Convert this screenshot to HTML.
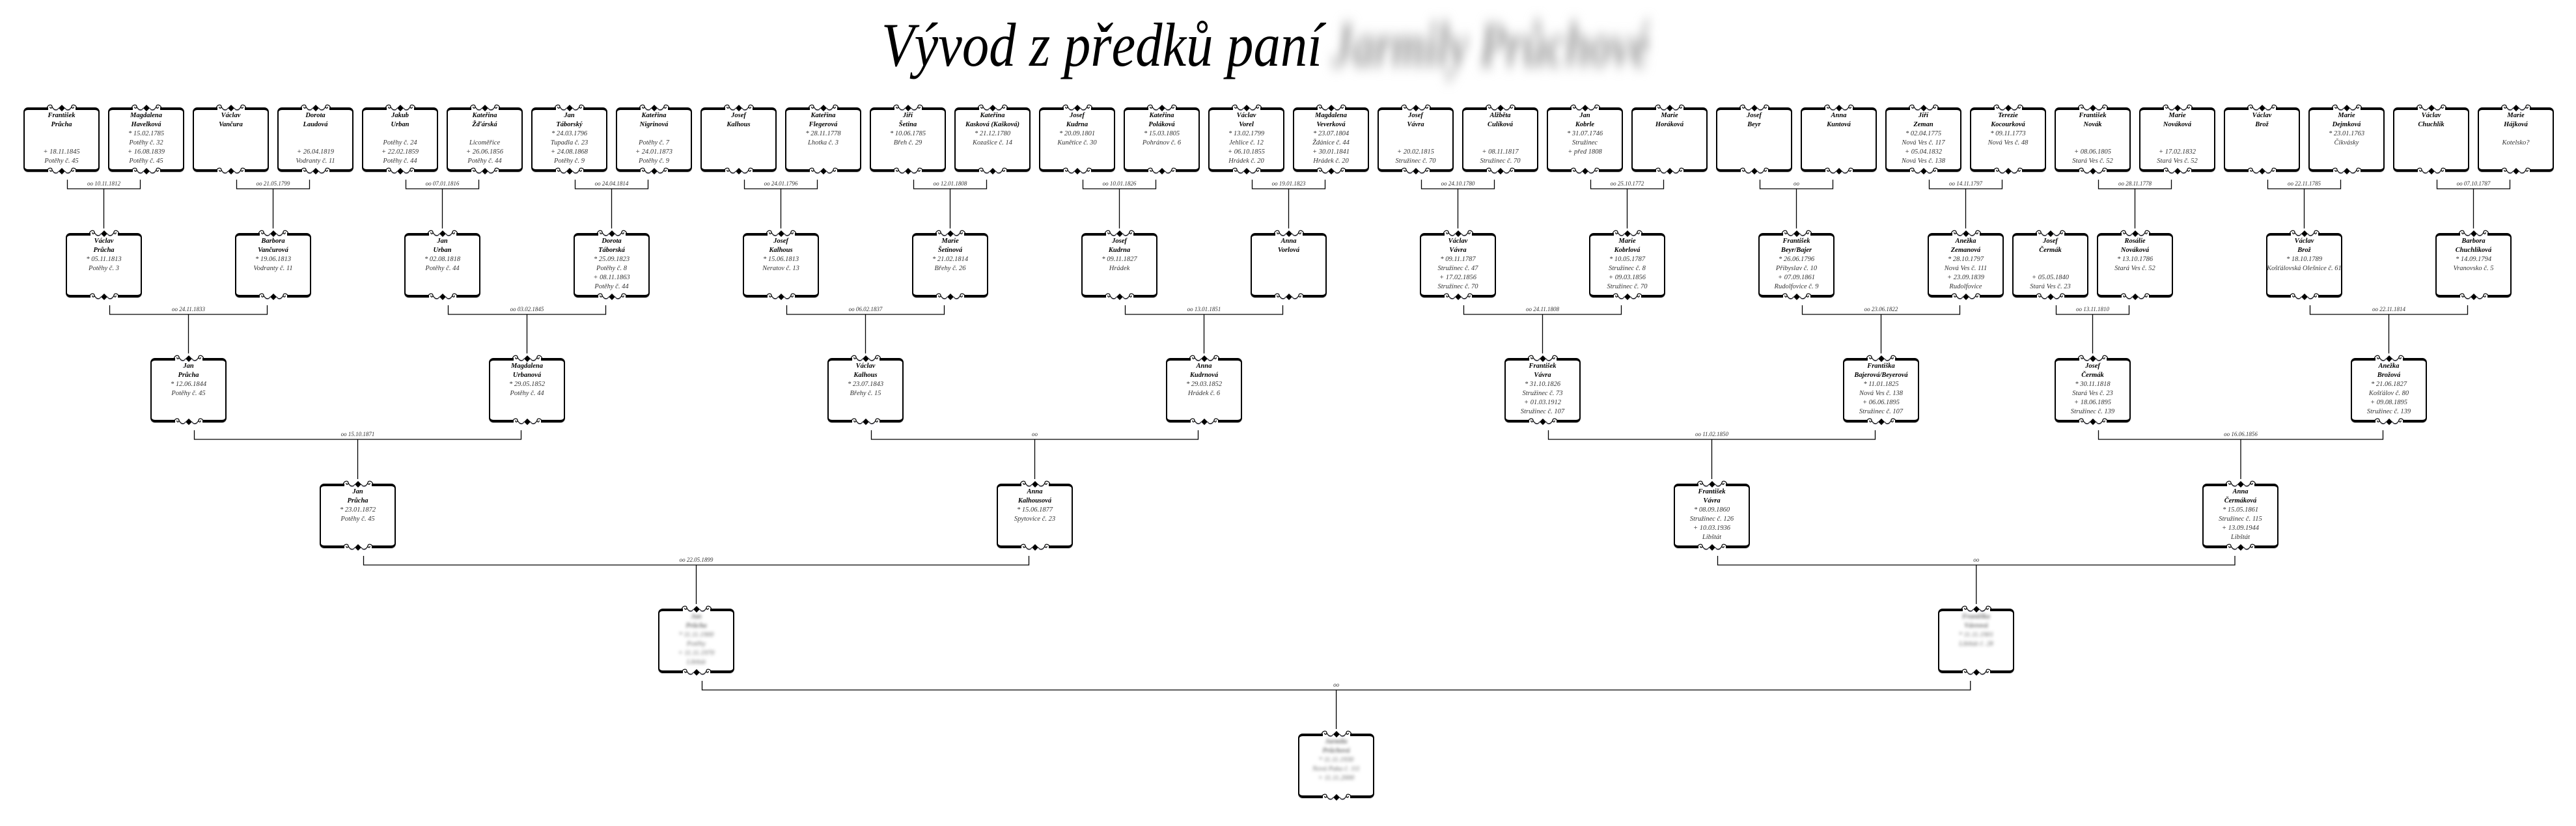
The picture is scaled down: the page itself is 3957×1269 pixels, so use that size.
<!DOCTYPE html>
<html><head><meta charset="utf-8">
<style>
html,body{margin:0;padding:0;background:#fff}
body{width:3957px;height:1269px;position:relative;overflow:hidden;font-family:"Liberation Serif",serif}
.b{position:absolute;width:117px;height:99px}
.b::before{content:'';position:absolute;left:0;top:0;right:0;bottom:0;border:2px solid #000;border-top:4px solid #000;border-bottom:4px solid #000;border-radius:7px;box-shadow:0 1px 0 #bbb}
.b svg{position:absolute;left:34.5px;width:48px;height:16px}
.b svg.t{top:-7px}.b svg.u{bottom:-7px}
.b p{position:absolute;top:6px;left:0;right:0;margin:0}
.b p b,.b p i{display:block;height:14px;line-height:14px;text-align:center;font-size:10.5px;font-style:italic;white-space:nowrap}
.b p b{font-weight:bold;color:#000}
.b p i{color:#333}
.bl p{filter:blur(2.5px)}
.bl p b,.bl p i{color:#666}
#title{position:absolute;left:1354px;top:22px;font-size:95px;font-style:italic;line-height:1;white-space:nowrap;transform:scaleX(0.87);transform-origin:left top}
#blur{position:absolute;left:2045px;top:22px;font-size:95px;font-weight:bold;font-style:italic;line-height:1;color:#9a9a9a;filter:blur(10px);white-space:nowrap;transform:scaleX(0.7);transform-origin:left top}
svg#c{position:absolute;left:0;top:0}
svg#c text{font-family:"Liberation Serif",serif;font-style:italic;font-size:9px;fill:#333;text-anchor:middle}
</style></head><body>
<svg width="0" height="0" style="position:absolute"><defs><symbol id="o" viewBox="0 0 48 16"><rect x="3" y="4" width="42" height="9" fill="#fff"/><path d="M1 8 C3 2 9 2 9 6 C9 9 5 9 6 6 M9 6 C12 12 17 12 19 8 M47 8 C45 2 39 2 39 6 C39 9 43 9 42 6 M39 6 C36 12 31 12 29 8" fill="none" stroke="#000" stroke-width="1.2"/><path d="M19 8 L24 3 L29 8 L24 13Z" fill="#000"/><path d="M11 10 C14 13 17 12 19 9 M37 10 C34 13 31 12 29 9" fill="none" stroke="#99a" stroke-width="0.8"/></symbol></defs></svg>

<div id="title">Vývod z předků paní</div>
<div id="blur">Jarmily Průchové</div>

<svg id="c" width="3957" height="1269">
<g fill="none" stroke="#000" stroke-width="1.3">
<path d="M103.5 276V290H215.5V276M159.5 290V351 M363.5 276V290H475.5V276M419.5 290V351 M623.5 276V290H735.5V276M679.5 290V351 M883.5 276V290H995.5V276M939.5 290V351 M1143.5 276V290H1255.5V276M1199.5 290V351 M1403.5 276V290H1515.5V276M1459.5 290V351 M1663.5 276V290H1775.5V276M1719.5 290V351 M1923.5 276V290H2035.5V276M1979.5 290V351 M2183.5 276V290H2295.5V276M2239.5 290V351 M2443.5 276V290H2555.5V276M2499.5 290V351 M2703.5 276V290H2815.5V276M2759.5 290V351 M2963.5 276V290H3075.5V276M3019.5 290V351 M3223.5 276V290H3335.5V276M3279.5 290V351 M3483.5 276V290H3595.5V276M3539.5 290V351 M3743.5 276V290H3855.5V276M3799.5 290V351"/>
<path d="M168.5 469V483H410.5V469M289.5 483V543 M688.5 469V483H930.5V469M809.5 483V543 M1208.5 469V483H1450.5V469M1329.5 483V543 M1728.5 469V483H1970.5V469M1849.5 483V543 M2248.5 469V483H2490.5V469M2369.5 483V543 M2768.5 469V483H3010.5V469M2889.5 483V543 M3158.5 469V483H3270.5V469M3214.5 483V543 M3548.5 469V483H3790.5V469M3669.5 483V543"/>
<path d="M298.5 661V675H800.5V661M549.5 675V736 M1338.5 661V675H1840.5V661M1589.5 675V736 M2378.5 661V675H2880.5V661M2629.5 675V736 M3223.5 661V675H3660.5V661M3442 675V736"/>
<path d="M558.5 854V868H1580.5V854M1069.5 868V928 M2638.5 854V868H3433V854M3035.75 868V928"/>
<path d="M1078.5 1046V1060H3026.75V1046M2052.6 1060V1120"/>
</g>
<g>
<text x="159.5" y="285">oo 10.11.1812</text><text x="419.5" y="285">oo 21.05.1799</text><text x="679.5" y="285">oo 07.01.1816</text><text x="939.5" y="285">oo 24.04.1814</text><text x="1199.5" y="285">oo 24.01.1796</text><text x="1459.5" y="285">oo 12.01.1808</text><text x="1719.5" y="285">oo 10.01.1826</text><text x="1979.5" y="285">oo 19.01.1823</text><text x="2239.5" y="285">oo 24.10.1780</text><text x="2499.5" y="285">oo 25.10.1772</text><text x="2759.5" y="285">oo</text><text x="3019.5" y="285">oo 14.11.1797</text><text x="3279.5" y="285">oo 28.11.1778</text><text x="3539.5" y="285">oo 22.11.1785</text><text x="3799.5" y="285">oo 07.10.1787</text>
<text x="289.5" y="478">oo 24.11.1833</text><text x="809.5" y="478">oo 03.02.1845</text><text x="1329.5" y="478">oo 06.02.1837</text><text x="1849.5" y="478">oo 13.01.1851</text><text x="2369.5" y="478">oo 24.11.1808</text><text x="2889.5" y="478">oo 23.06.1822</text><text x="3214.5" y="478">oo 13.11.1810</text><text x="3669.5" y="478">oo 22.11.1814</text>
<text x="549.5" y="670">oo 15.10.1871</text><text x="1589.5" y="670">oo</text><text x="2629.5" y="670">oo 11.02.1850</text><text x="3442" y="670">oo 16.06.1856</text>
<text x="1069.5" y="863">oo 22.05.1899</text><text x="3035.75" y="863">oo</text>
<text x="2052.6" y="1055">oo</text>
</g>
</svg>

<!-- Generation 1 -->
<div class="b" style="left:36px;top:165px"><svg class="t"><use href="#o"/></svg><svg class="u"><use href="#o"/></svg><p><b>František</b><b>Průcha</b><i></i><i></i><i>+ 18.11.1845</i><i>Potěhy č. 45</i></p></div>
<div class="b" style="left:166px;top:165px"><svg class="t"><use href="#o"/></svg><svg class="u"><use href="#o"/></svg><p><b>Magdalena</b><b>Havelková</b><i>* 15.02.1785</i><i>Potěhy č. 32</i><i>+ 16.08.1839</i><i>Potěhy č. 45</i></p></div>
<div class="b" style="left:296px;top:165px"><svg class="t"><use href="#o"/></svg><svg class="u"><use href="#o"/></svg><p><b>Václav</b><b>Vančura</b></p></div>
<div class="b" style="left:426px;top:165px"><svg class="t"><use href="#o"/></svg><svg class="u"><use href="#o"/></svg><p><b>Dorota</b><b>Laudová</b><i></i><i></i><i>+ 26.04.1819</i><i>Vodranty č. 11</i></p></div>
<div class="b" style="left:556px;top:165px"><svg class="t"><use href="#o"/></svg><svg class="u"><use href="#o"/></svg><p><b>Jakub</b><b>Urban</b><i></i><i>Potěhy č. 24</i><i>+ 22.02.1859</i><i>Potěhy č. 44</i></p></div>
<div class="b" style="left:686px;top:165px"><svg class="t"><use href="#o"/></svg><svg class="u"><use href="#o"/></svg><p><b>Kateřina</b><b>Žďárská</b><i></i><i>Licoměřice</i><i>+ 26.06.1856</i><i>Potěhy č. 44</i></p></div>
<div class="b" style="left:816px;top:165px"><svg class="t"><use href="#o"/></svg><svg class="u"><use href="#o"/></svg><p><b>Jan</b><b>Táborský</b><i>* 24.03.1796</i><i>Tupadla č. 23</i><i>+ 24.08.1868</i><i>Potěhy č. 9</i></p></div>
<div class="b" style="left:946px;top:165px"><svg class="t"><use href="#o"/></svg><svg class="u"><use href="#o"/></svg><p><b>Kateřina</b><b>Nigrinová</b><i></i><i>Potěhy č. 7</i><i>+ 24.01.1873</i><i>Potěhy č. 9</i></p></div>
<div class="b" style="left:1076px;top:165px"><svg class="t"><use href="#o"/></svg><svg class="u"><use href="#o"/></svg><p><b>Josef</b><b>Kalhous</b></p></div>
<div class="b" style="left:1206px;top:165px"><svg class="t"><use href="#o"/></svg><svg class="u"><use href="#o"/></svg><p><b>Kateřina</b><b>Flegerová</b><i>* 28.11.1778</i><i>Lhotka č. 3</i></p></div>
<div class="b" style="left:1336px;top:165px"><svg class="t"><use href="#o"/></svg><svg class="u"><use href="#o"/></svg><p><b>Jiří</b><b>Šetina</b><i>* 10.06.1785</i><i>Břeh č. 29</i></p></div>
<div class="b" style="left:1466px;top:165px"><svg class="t"><use href="#o"/></svg><svg class="u"><use href="#o"/></svg><p><b>Kateřina</b><b>Kasková (Kašková)</b><i>* 21.12.1780</i><i>Kozašice č. 14</i></p></div>
<div class="b" style="left:1596px;top:165px"><svg class="t"><use href="#o"/></svg><svg class="u"><use href="#o"/></svg><p><b>Josef</b><b>Kudrna</b><i>* 20.09.1801</i><i>Kunětice č. 30</i></p></div>
<div class="b" style="left:1726px;top:165px"><svg class="t"><use href="#o"/></svg><svg class="u"><use href="#o"/></svg><p><b>Kateřina</b><b>Poláková</b><i>* 15.03.1805</i><i>Pohránov č. 6</i></p></div>
<div class="b" style="left:1856px;top:165px"><svg class="t"><use href="#o"/></svg><svg class="u"><use href="#o"/></svg><p><b>Václav</b><b>Vorel</b><i>* 13.02.1799</i><i>Jehlice č. 12</i><i>+ 06.10.1855</i><i>Hrádek č. 20</i></p></div>
<div class="b" style="left:1986px;top:165px"><svg class="t"><use href="#o"/></svg><svg class="u"><use href="#o"/></svg><p><b>Magdalena</b><b>Veverková</b><i>* 23.07.1804</i><i>Ždánice č. 44</i><i>+ 30.01.1841</i><i>Hrádek č. 20</i></p></div>
<div class="b" style="left:2116px;top:165px"><svg class="t"><use href="#o"/></svg><svg class="u"><use href="#o"/></svg><p><b>Josef</b><b>Vávra</b><i></i><i></i><i>+ 20.02.1815</i><i>Stružinec č. 70</i></p></div>
<div class="b" style="left:2246px;top:165px"><svg class="t"><use href="#o"/></svg><svg class="u"><use href="#o"/></svg><p><b>Alžběta</b><b>Culíková</b><i></i><i></i><i>+ 08.11.1817</i><i>Stružinec č. 70</i></p></div>
<div class="b" style="left:2376px;top:165px"><svg class="t"><use href="#o"/></svg><svg class="u"><use href="#o"/></svg><p><b>Jan</b><b>Kobrle</b><i>* 31.07.1746</i><i>Stružinec</i><i>+ před 1808</i></p></div>
<div class="b" style="left:2506px;top:165px"><svg class="t"><use href="#o"/></svg><svg class="u"><use href="#o"/></svg><p><b>Marie</b><b>Horáková</b></p></div>
<div class="b" style="left:2636px;top:165px"><svg class="t"><use href="#o"/></svg><svg class="u"><use href="#o"/></svg><p><b>Josef</b><b>Beyr</b></p></div>
<div class="b" style="left:2766px;top:165px"><svg class="t"><use href="#o"/></svg><svg class="u"><use href="#o"/></svg><p><b>Anna</b><b>Kuntová</b></p></div>
<div class="b" style="left:2896px;top:165px"><svg class="t"><use href="#o"/></svg><svg class="u"><use href="#o"/></svg><p><b>Jiří</b><b>Zeman</b><i>* 02.04.1775</i><i>Nová Ves č. 117</i><i>+ 05.04.1832</i><i>Nová Ves č. 138</i></p></div>
<div class="b" style="left:3026px;top:165px"><svg class="t"><use href="#o"/></svg><svg class="u"><use href="#o"/></svg><p><b>Terezie</b><b>Kocourková</b><i>* 09.11.1773</i><i>Nová Ves č. 48</i></p></div>
<div class="b" style="left:3156px;top:165px"><svg class="t"><use href="#o"/></svg><svg class="u"><use href="#o"/></svg><p><b>František</b><b>Novák</b><i></i><i></i><i>+ 08.06.1805</i><i>Stará Ves č. 52</i></p></div>
<div class="b" style="left:3286px;top:165px"><svg class="t"><use href="#o"/></svg><svg class="u"><use href="#o"/></svg><p><b>Marie</b><b>Nováková</b><i></i><i></i><i>+ 17.02.1832</i><i>Stará Ves č. 52</i></p></div>
<div class="b" style="left:3416px;top:165px"><svg class="t"><use href="#o"/></svg><svg class="u"><use href="#o"/></svg><p><b>Václav</b><b>Brož</b></p></div>
<div class="b" style="left:3546px;top:165px"><svg class="t"><use href="#o"/></svg><svg class="u"><use href="#o"/></svg><p><b>Marie</b><b>Dejmková</b><i>* 23.01.1763</i><i>Čikvásky</i></p></div>
<div class="b" style="left:3676px;top:165px"><svg class="t"><use href="#o"/></svg><svg class="u"><use href="#o"/></svg><p><b>Václav</b><b>Chuchlík</b></p></div>
<div class="b" style="left:3806px;top:165px"><svg class="t"><use href="#o"/></svg><svg class="u"><use href="#o"/></svg><p><b>Marie</b><b>Hájková</b><i></i><i>Kotelsko?</i></p></div>

<!-- Generation 2 -->
<div class="b" style="left:101px;top:358px"><svg class="t"><use href="#o"/></svg><svg class="u"><use href="#o"/></svg><p><b>Václav</b><b>Průcha</b><i>* 05.11.1813</i><i>Potěhy č. 3</i></p></div>
<div class="b" style="left:361px;top:358px"><svg class="t"><use href="#o"/></svg><svg class="u"><use href="#o"/></svg><p><b>Barbora</b><b>Vančurová</b><i>* 19.06.1813</i><i>Vodranty č. 11</i></p></div>
<div class="b" style="left:621px;top:358px"><svg class="t"><use href="#o"/></svg><svg class="u"><use href="#o"/></svg><p><b>Jan</b><b>Urban</b><i>* 02.08.1818</i><i>Potěhy č. 44</i></p></div>
<div class="b" style="left:881px;top:358px"><svg class="t"><use href="#o"/></svg><svg class="u"><use href="#o"/></svg><p><b>Dorota</b><b>Táborská</b><i>* 25.09.1823</i><i>Potěhy č. 8</i><i>+ 08.11.1863</i><i>Potěhy č. 44</i></p></div>
<div class="b" style="left:1141px;top:358px"><svg class="t"><use href="#o"/></svg><svg class="u"><use href="#o"/></svg><p><b>Josef</b><b>Kalhous</b><i>* 15.06.1813</i><i>Neratov č. 13</i></p></div>
<div class="b" style="left:1401px;top:358px"><svg class="t"><use href="#o"/></svg><svg class="u"><use href="#o"/></svg><p><b>Marie</b><b>Šetinová</b><i>* 21.02.1814</i><i>Břehy č. 26</i></p></div>
<div class="b" style="left:1661px;top:358px"><svg class="t"><use href="#o"/></svg><svg class="u"><use href="#o"/></svg><p><b>Josef</b><b>Kudrna</b><i>* 09.11.1827</i><i>Hrádek</i></p></div>
<div class="b" style="left:1921px;top:358px"><svg class="t"><use href="#o"/></svg><svg class="u"><use href="#o"/></svg><p><b>Anna</b><b>Vorlová</b></p></div>
<div class="b" style="left:2181px;top:358px"><svg class="t"><use href="#o"/></svg><svg class="u"><use href="#o"/></svg><p><b>Václav</b><b>Vávra</b><i>* 09.11.1787</i><i>Stružinec č. 47</i><i>+ 17.02.1856</i><i>Stružinec č. 70</i></p></div>
<div class="b" style="left:2441px;top:358px"><svg class="t"><use href="#o"/></svg><svg class="u"><use href="#o"/></svg><p><b>Marie</b><b>Kobrlová</b><i>* 10.05.1787</i><i>Stružinec č. 8</i><i>+ 09.03.1856</i><i>Stružinec č. 70</i></p></div>
<div class="b" style="left:2701px;top:358px"><svg class="t"><use href="#o"/></svg><svg class="u"><use href="#o"/></svg><p><b>František</b><b>Beyr/Bajer</b><i>* 26.06.1796</i><i>Přibyslav č. 10</i><i>+ 07.09.1861</i><i>Rudolfovice č. 9</i></p></div>
<div class="b" style="left:2961px;top:358px"><svg class="t"><use href="#o"/></svg><svg class="u"><use href="#o"/></svg><p><b>Anežka</b><b>Zemanová</b><i>* 28.10.1797</i><i>Nová Ves č. 111</i><i>+ 23.09.1839</i><i>Rudolfovice</i></p></div>
<div class="b" style="left:3091px;top:358px"><svg class="t"><use href="#o"/></svg><svg class="u"><use href="#o"/></svg><p><b>Josef</b><b>Čermák</b><i></i><i></i><i>+ 05.05.1840</i><i>Stará Ves č. 23</i></p></div>
<div class="b" style="left:3221px;top:358px"><svg class="t"><use href="#o"/></svg><svg class="u"><use href="#o"/></svg><p><b>Rosálie</b><b>Nováková</b><i>* 13.10.1786</i><i>Stará Ves č. 52</i></p></div>
<div class="b" style="left:3481px;top:358px"><svg class="t"><use href="#o"/></svg><svg class="u"><use href="#o"/></svg><p><b>Václav</b><b>Brož</b><i>* 18.10.1789</i><i>Košťálovská Olešnice č. 61</i></p></div>
<div class="b" style="left:3741px;top:358px"><svg class="t"><use href="#o"/></svg><svg class="u"><use href="#o"/></svg><p><b>Barbora</b><b>Chuchlíková</b><i>* 14.09.1794</i><i>Vranovsko č. 5</i></p></div>

<!-- Generation 3 -->
<div class="b" style="left:231px;top:550px"><svg class="t"><use href="#o"/></svg><svg class="u"><use href="#o"/></svg><p><b>Jan</b><b>Průcha</b><i>* 12.06.1844</i><i>Potěhy č. 45</i></p></div>
<div class="b" style="left:751px;top:550px"><svg class="t"><use href="#o"/></svg><svg class="u"><use href="#o"/></svg><p><b>Magdalena</b><b>Urbanová</b><i>* 29.05.1852</i><i>Potěhy č. 44</i></p></div>
<div class="b" style="left:1271px;top:550px"><svg class="t"><use href="#o"/></svg><svg class="u"><use href="#o"/></svg><p><b>Václav</b><b>Kalhous</b><i>* 23.07.1843</i><i>Břehy č. 15</i></p></div>
<div class="b" style="left:1791px;top:550px"><svg class="t"><use href="#o"/></svg><svg class="u"><use href="#o"/></svg><p><b>Anna</b><b>Kudrnová</b><i>* 29.03.1852</i><i>Hrádek č. 6</i></p></div>
<div class="b" style="left:2311px;top:550px"><svg class="t"><use href="#o"/></svg><svg class="u"><use href="#o"/></svg><p><b>František</b><b>Vávra</b><i>* 31.10.1826</i><i>Stružinec č. 73</i><i>+ 01.03.1912</i><i>Stružinec č. 107</i></p></div>
<div class="b" style="left:2831px;top:550px"><svg class="t"><use href="#o"/></svg><svg class="u"><use href="#o"/></svg><p><b>Františka</b><b>Bajerová/Beyerová</b><i>* 11.01.1825</i><i>Nová Ves č. 138</i><i>+ 06.06.1895</i><i>Stružinec č. 107</i></p></div>
<div class="b" style="left:3156px;top:550px"><svg class="t"><use href="#o"/></svg><svg class="u"><use href="#o"/></svg><p><b>Josef</b><b>Čermák</b><i>* 30.11.1818</i><i>Stará Ves č. 23</i><i>+ 18.06.1895</i><i>Stružinec č. 139</i></p></div>
<div class="b" style="left:3611px;top:550px"><svg class="t"><use href="#o"/></svg><svg class="u"><use href="#o"/></svg><p><b>Anežka</b><b>Brožová</b><i>* 21.06.1827</i><i>Košťálov č. 80</i><i>+ 09.08.1895</i><i>Stružinec č. 139</i></p></div>

<!-- Generation 4 -->
<div class="b" style="left:491px;top:743px"><svg class="t"><use href="#o"/></svg><svg class="u"><use href="#o"/></svg><p><b>Jan</b><b>Průcha</b><i>* 23.01.1872</i><i>Potěhy č. 45</i></p></div>
<div class="b" style="left:1531px;top:743px"><svg class="t"><use href="#o"/></svg><svg class="u"><use href="#o"/></svg><p><b>Anna</b><b>Kalhousová</b><i>* 15.06.1877</i><i>Spytovice č. 23</i></p></div>
<div class="b" style="left:2571px;top:743px"><svg class="t"><use href="#o"/></svg><svg class="u"><use href="#o"/></svg><p><b>František</b><b>Vávra</b><i>* 08.09.1860</i><i>Stružinec č. 126</i><i>+ 10.03.1936</i><i>Libštát</i></p></div>
<div class="b" style="left:3383px;top:743px"><svg class="t"><use href="#o"/></svg><svg class="u"><use href="#o"/></svg><p><b>Anna</b><b>Čermáková</b><i>* 15.05.1861</i><i>Stružinec č. 115</i><i>+ 13.09.1944</i><i>Libštát</i></p></div>

<!-- Generation 5 (blurred) -->
<div class="b bl" style="left:1011px;top:935px"><svg class="t"><use href="#o"/></svg><svg class="u"><use href="#o"/></svg><p><b>Jan</b><b>Průcha</b><i>* 11.11.1900</i><i>Potěhy</i><i>+ 11.11.1970</i><i>Libštát</i></p></div>
<div class="b bl" style="left:2977px;top:935px"><svg class="t"><use href="#o"/></svg><svg class="u"><use href="#o"/></svg><p><b>Františka</b><b>Vávrová</b><i>* 11.11.1901</i><i>Libštát č. 28</i></p></div>

<!-- Generation 6 (blurred) -->
<div class="b bl" style="left:1994px;top:1127px"><svg class="t"><use href="#o"/></svg><svg class="u"><use href="#o"/></svg><p><b>Jarmila</b><b>Průchová</b><i>* 11.11.1930</i><i>Nová Paka č. 111</i><i>+ 11.11.2000</i></p></div>

</body></html>
